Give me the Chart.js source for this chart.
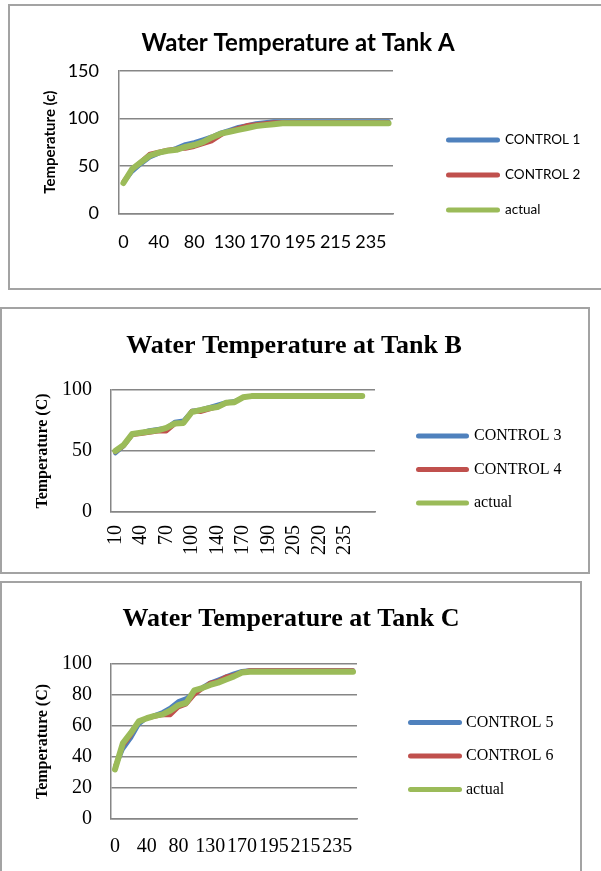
<!DOCTYPE html>
<html>
<head>
<meta charset="utf-8">
<title>Water Temperature</title>
<script src="https://cdn.jsdelivr.net/npm/chart.js@4.4.0/dist/chart.umd.min.js"></script>
<style>
  html, body { margin: 0; padding: 0; background: #fff; }
  body { position: relative; width: 601px; height: 871px; overflow: hidden; }
  .panel { position: absolute; box-sizing: border-box; border: 2px solid #a3a3a3; background: #fff; }
  .panel canvas { position: absolute; left: 0; top: 0; }
  #panelA { left: 8px; top: 4px; width: 610px; height: 286px; }
  #panelB { left: 0; top: 307px; width: 590px; height: 267px; }
  #panelC { left: 0; top: 581px; width: 582px; height: 300px; }
</style>
</head>
<body>
<div class="panel" id="panelA"><canvas id="chartA" width="591" height="282"></canvas></div>
<div class="panel" id="panelB"><canvas id="chartB" width="586" height="263"></canvas></div>
<div class="panel" id="panelC"><canvas id="chartC" width="578" height="292"></canvas></div>
<script>
// time readings (x categories)
const timesAC = [0, 10, 20, 30, 40, 50, 60, 70, 80, 90, 100, 120, 130, 140, 150, 160, 170, 180, 185, 190, 195, 200, 205, 210, 215, 220, 225, 230, 235, 240, 245];
const timesB = [10, 20, 30, 40, 50, 60, 70, 80, 90, 100, 120, 130, 140, 150, 160, 170, 180, 185, 190, 195, 200, 205, 210, 215, 220, 225, 230, 235, 240, 245, ''];

// Tank A
const control1 = [32, 44, 52, 59, 63, 66, 69, 73, 75, 78, 81, 85, 88, 91, 93, 95, 96, 97, 97, 97, 97, 97, 97, 97, 97, 97, 97, 97, 97, 97, 97];
const control2 = [34, 46, 55, 63, 65, 67, 68, 68, 70, 73, 76, 82, 87, 90, 93, 94, 95, 96, 96, 96, 96, 96, 96, 96, 96, 96, 96, 96, 96, 96, 96];
const actualA  = [32, 47, 54, 61, 64, 66, 67, 70, 72, 75, 80, 84, 86, 88, 90, 92, 93, 94, 95, 95, 95, 95, 95, 95, 95, 95, 95, 95, 95, 95, 95];

// Tank B
const control3 = [48, 54, 63, 65, 67, 68, 69, 74, 75, 83, 84, 86, 88, 90, 91, 94, 95, 95, 95, 95, 95, 95, 95, 95, 95, 95, 95, 95, 95, 95, null];
const control4 = [49, 54, 63, 64, 65, 66, 66, 72, 73, 83, 82, 84, 86, 89, 90, 94, 95, 95, 95, 95, 95, 95, 95, 95, 95, 95, 95, 95, 95, 95, null];
const actualB  = [50, 55, 64, 65, 66, 67, 69, 72.5, 73, 82, 83.5, 85, 86, 89.5, 90, 94, 95, 95, 95, 95, 95, 95, 95, 95, 95, 95, 95, 95, 95, 95, null];

// Tank C
const control5 = [33, 45, 52, 61, 65, 67, 69, 72, 76, 78, 82, 85, 88, 90, 92, 94, 95.5, 96, 96, 96, 96, 96, 96, 96, 96, 96, 96, 96, 96, 96, 96];
const control6 = [34, 47, 54, 63, 65, 66, 67, 67, 72, 74, 80, 84, 88, 89, 92, 93, 95, 96, 96, 96, 96, 96, 96, 96, 96, 96, 96, 96, 96, 96, 96];
const actualC  = [32, 49, 55.5, 63, 65, 66.5, 67.5, 70, 73.5, 75, 83, 84.5, 86.5, 88, 90, 92, 94.5, 95, 95, 95, 95, 95, 95, 95, 95, 95, 95, 95, 95, 95, 95];

const yTicksA = [0, 50, 100, 150];
const yTicksB = [0, 50, 100];
const yTicksC = [0, 20, 40, 60, 80, 100];

const BLUE = '#4f81bd', RED = '#c0504d', GREEN = '#9bbb59', GRID = '#868686';

// legend to the right of the plot, like the spreadsheet one
const sideLegend = {
  id: 'sideLegend',
  afterDraw(chart, args, opts) {
    const ctx = chart.ctx;
    ctx.save();
    ctx.font = opts.size + 'px ' + opts.family;
    ctx.textBaseline = 'middle';
    ctx.lineCap = 'round';
    chart.data.datasets.forEach((ds, i) => {
      const y = opts.y + i * opts.step;
      ctx.strokeStyle = ds.borderColor;
      ctx.lineWidth = 5;
      ctx.beginPath();
      ctx.moveTo(opts.x + 2.5, y);
      ctx.lineTo(opts.x + opts.len - 2.5, y);
      ctx.stroke();
      ctx.fillStyle = '#000';
      ctx.fillText(ds.label, opts.x + opts.len + opts.textGap, y);
    });
    ctx.restore();
  }
};

function makeChart(id, o) {
  const n = o.series.length;
  return new Chart(document.getElementById(id), {
    type: 'line',
    data: {
      labels: o.labels,
      datasets: o.series.map((s, i) => ({
        label: s.name,
        data: s.data,
        borderColor: s.color,
        backgroundColor: s.color,
        borderWidth: s.width,
        pointRadius: 0,
        tension: 0,
        borderCapStyle: 'round',
        borderJoinStyle: 'round',
        order: n - 1 - i   // actual drawn on top
      }))
    },
    plugins: [sideLegend],
    options: {
      responsive: false,
      animation: false,
      events: [],
      layout: { padding: o.pad },
      plugins: {
        tooltip: { enabled: false },
        legend: { display: false },
        title: {
          display: true,
          text: o.title,
          color: '#000',
          font: { family: o.family, size: o.titleSize, weight: 'bold' },
          padding: o.titlePad
        },
        sideLegend: Object.assign({ family: o.family, size: o.legendSize }, o.legend)
      },
      scales: {
        x: {
          offset: true,
          grid: { display: false, drawTicks: false },
          border: { display: true, color: GRID, width: 1.5 },
          ticks: {
            color: '#000',
            font: { family: o.family, size: o.tickSize },
            autoSkip: false,
            maxRotation: o.rotate,
            minRotation: o.rotate,
            padding: o.xTickPad,
            callback: function (v, i) { return i % o.every === 0 ? this.getLabelForValue(v) : ''; }
          }
        },
        y: {
          min: o.yTicks[0],
          max: o.yTicks[o.yTicks.length - 1],
          grid: { color: GRID, lineWidth: 1.5, drawTicks: false },
          border: { display: true, color: GRID, width: 1.5 },
          ticks: {
            color: '#000',
            autoSkip: false,
            stepSize: o.yTicks[1] - o.yTicks[0],
            font: { family: o.family, size: o.tickSize },
            padding: o.yTickPad
          },
          title: {
            display: true,
            text: o.yTitle,
            color: '#000',
            font: { family: o.family, size: o.yTitleSize, weight: 'bold' },
            padding: o.yTitlePad
          },
          afterFit: s => { s.width = o.yWidth; }
        },
        // empty space kept for the legend
        gap: {
          position: 'right',
          grid: { display: false },
          border: { display: false },
          ticks: { display: false },
          afterFit: s => { s.width = o.gap; }
        }
      }
    }
  });
}

makeChart('chartA', {
  title: 'Water Temperature at Tank A',
  labels: timesAC,
  series: [
    { name: 'CONTROL 1', data: control1, color: BLUE, width: 4 },
    { name: 'CONTROL 2', data: control2, color: RED, width: 4 },
    { name: 'actual', data: actualA, color: GREEN, width: 6 }
  ],
  yTicks: yTicksA, yTitle: 'Temperature (c)', every: 4, rotate: 0,
  family: 'Lato', titleSize: 24, tickSize: 18, legendSize: 13.5, yTitleSize: 15,
  pad: { left: 0, top: 0, right: 15, bottom: 17 },
  titlePad: { top: 22.6, bottom: 13.6 },
  yTitlePad: { top: 31, bottom: 0 }, yWidth: 109,
  yTickPad: 20, xTickPad: 18, gap: 193,
  legend: { x: 436, y: 134, step: 35, len: 54, textGap: 5 }
});

makeChart('chartB', {
  title: 'Water Temperature at Tank B',
  labels: timesB,
  series: [
    { name: 'CONTROL 3', data: control3, color: BLUE, width: 4 },
    { name: 'CONTROL 4', data: control4, color: RED, width: 4 },
    { name: 'actual', data: actualB, color: GREEN, width: 6 }
  ],
  yTicks: yTicksB, yTitle: 'Temperature (C)', every: 3, rotate: 90,
  family: 'Liberation Serif', titleSize: 26, tickSize: 20, legendSize: 16, yTitleSize: 16,
  pad: { left: 0, top: 0, right: 2, bottom: 4 },
  titlePad: { top: 22, bottom: 27.8 },
  yTitlePad: { top: 31.4, bottom: 0 }, yWidth: 109,
  yTickPad: 19, xTickPad: 13, gap: 211,
  legend: { x: 414, y: 127, step: 33.5, len: 53, textGap: 5 }
});

makeChart('chartC', {
  title: 'Water Temperature at Tank C',
  labels: timesAC,
  series: [
    { name: 'CONTROL 5', data: control5, color: BLUE, width: 4 },
    { name: 'CONTROL 6', data: control6, color: RED, width: 4 },
    { name: 'actual', data: actualC, color: GREEN, width: 6 }
  ],
  yTicks: yTicksC, yTitle: 'Temperature (C)', every: 4, rotate: 0,
  family: 'Liberation Serif', titleSize: 26, tickSize: 20, legendSize: 16, yTitleSize: 16,
  pad: { left: 0, top: 0, right: 0, bottom: 0 },
  titlePad: { top: 21, bottom: 28.8 },
  yTitlePad: { top: 31.4, bottom: 0 }, yWidth: 109,
  yTickPad: 19, xTickPad: 16, gap: 223,
  legend: { x: 406, y: 139.5, step: 33.5, len: 54, textGap: 4 }
});
</script>
</body>
</html>
